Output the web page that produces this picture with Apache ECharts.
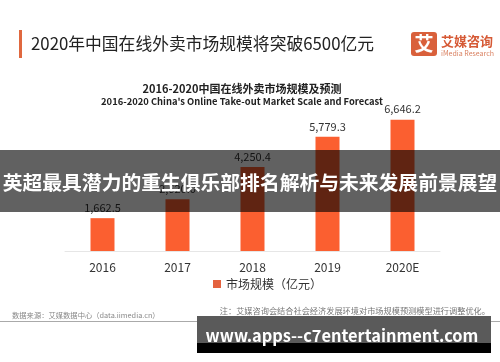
<!DOCTYPE html>
<html><head><meta charset="utf-8">
<script src="https://cdn.jsdelivr.net/npm/echarts@6/dist/echarts.min.js"></script>
<style>html,body{margin:0;padding:0;background:#fff}#c{width:500px;height:362px}</style>
</head><body><div id="c"></div>
<script>
const categories = ['2016', '2017', '2018', '2019', '2020E'];
const marketScale = [1662.5, 2620.0, 4250.4, 5779.3, 6646.2];
const seriesName = '市场规模（亿元）';
const F = '"Noto Sans CJK SC","Noto Sans",sans-serif';
const chart = echarts.init(document.getElementById('c'));
chart.setOption({
  backgroundColor: '#fff',
  animation: false,
  grid: {left: 65, right: 60, top: 93, bottom: 111},
  xAxis: {
    type: 'category', data: categories,
    axisLine: {lineStyle: {color: '#e6e6e6'}},
    axisTick: {show: false},
    axisLabel: {color: '#333', fontSize: 12, margin: 10, fontFamily: F}
  },
  yAxis: {type: 'value', min: 0, max: 8000, show: false, splitLine: {show: false}},
  legend: {
    left: 208, top: 273, itemWidth: 8, itemHeight: 8, icon: 'rect', itemGap: 4,
    textStyle: {color: '#333', fontSize: 12, fontFamily: F},
    data: [{name: seriesName, itemStyle: {color: '#E4623F'}}]
  },
  series: [{
    type: 'bar', name: seriesName, data: marketScale, barWidth: 24,
    itemStyle: {color: '#FB5F30'},
    label: {
      show: true, position: 'top', distance: 5, color: '#333', fontSize: 11, fontFamily: F,
      formatter: p => p.value.toLocaleString('en-US', {minimumFractionDigits: 1, maximumFractionDigits: 1})
    }
  }],
  graphic: [
    {type: 'rect', shape: {x: 19, y: 30, width: 3, height: 28}, style: {fill: '#E0683F'}},
    {type: 'text', x: 31, y: 44, style: {text: '2020年中国在线外卖市场规模将突破6500亿元', fill: '#222', font: '16.8px ' + F, verticalAlign: 'middle'}},
    {type: 'rect', shape: {x: 411, y: 32, width: 26, height: 24, r: 3}, style: {fill: '#D9603B'}},
    {type: 'text', x: 424, y: 44, style: {text: '艾', fill: '#fff', font: 'bold 19px ' + F, align: 'center', verticalAlign: 'middle'}},
    {type: 'text', x: 441, y: 41, style: {text: '艾媒咨询', fill: '#D65A36', font: 'bold 13px ' + F, verticalAlign: 'middle'}},
    {type: 'text', x: 441, y: 53, style: {text: 'iMedia Research', fill: '#D98060', font: '7px ' + F, verticalAlign: 'middle'}},
    {type: 'text', x: 242, y: 89, style: {text: '2016-2020中国在线外卖市场规模及预测', fill: '#222', font: 'bold 11px ' + F, align: 'center', verticalAlign: 'middle'}},
    {type: 'text', x: 242, y: 101, style: {text: "2016-2020 China's Online Take-out Market Scale and Forecast", fill: '#222', font: 'bold 9.4px ' + F, align: 'center', verticalAlign: 'middle'}},
    {type: 'text', x: 490, y: 311, style: {text: '注：艾媒咨询会结合社会经济发展环境对市场规模预测模型进行调整优化。', fill: '#777', font: '8.2px ' + F, align: 'right', verticalAlign: 'middle'}},
    {type: 'text', x: 12, y: 315, style: {text: '数据来源：艾媒数据中心（data.iimedia.cn）', fill: '#888', font: '7.3px ' + F, verticalAlign: 'middle'}},
    {type: 'rect', shape: {x: 0, y: 321, width: 500, height: 1}, style: {fill: '#aaa'}},
    {type: 'rect', z: 100, shape: {x: 0, y: 150, width: 500, height: 62}, style: {fill: 'rgba(0,0,0,0.62)'}},
    {type: 'text', z: 101, x: 250, y: 182, style: {text: '英超最具潜力的重生俱乐部排名解析与未来发展前景展望', fill: '#fff', font: 'bold 19.8px ' + F, align: 'center', verticalAlign: 'middle'}},
    {type: 'rect', z: 100, shape: {x: 197, y: 316, width: 294, height: 27}, style: {fill: '#5a5a5a'}},
    {type: 'rect', z: 100, shape: {x: 197, y: 343, width: 294, height: 10}, style: {fill: '#000'}},
    {type: 'text', z: 101, x: 342, y: 336, style: {text: 'www.apps--c7entertainment.com', fill: '#fff', font: 'bold 16.4px ' + F, align: 'center', verticalAlign: 'middle'}}
  ]
});
</script></body></html>
